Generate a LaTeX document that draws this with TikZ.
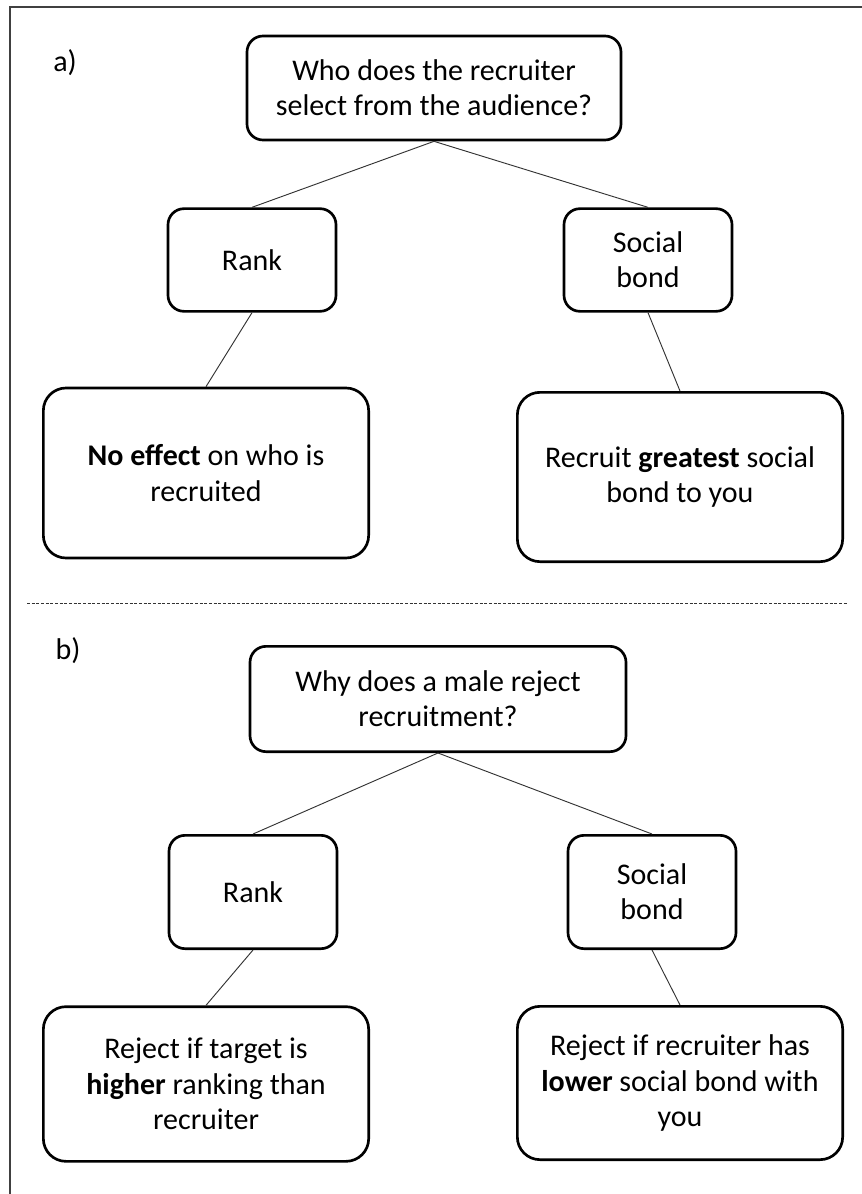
\documentclass[tikz,border=0pt]{standalone}
\usepackage{fontspec}
\setmainfont{Carlito}
\begin{document}
\begin{tikzpicture}[x=0.75pt,y=-0.75pt,
  box/.style={draw, line width=2pt, rounded corners=12pt, align=center,
    inner sep=0pt, font=\fontsize{22.5}{26.5}\selectfont},
  smallbox/.style={box, minimum width=126pt, minimum height=77pt},
  bigbox/.style={box, rounded corners=17pt, minimum width=244pt},
  link/.style={line width=0.7pt, black!80},
  tag/.style={font=\fontsize{22.5}{26.5}\selectfont}]

\useasboundingbox (0,0) rectangle (862,1194);

  %% frame
  \draw[line width=1.5pt, black!75] (10,1194) -- (10,7) -- (862,7);

  %% panel a
  \node[tag] (tagA) at (65,63) {a)};
  \node[box, minimum width=280.5pt, minimum height=78pt] (qA) at (434,88)
    {Who does the recruiter\\select from the audience?};
  \node[smallbox] (rankA) at (252,260) {Rank};
  \node[smallbox] (bondA) at (648,260) {Social\\bond};
  \node[bigbox, minimum height=127.5pt] (noeffect) at (206,473)
    {\textbf{No effect} on who is\\recruited};
  \node[bigbox, minimum height=127pt] (greatest) at (680,477)
    {Recruit \textbf{greatest} social\\bond to you};

  \draw[link] (qA.south) -- (rankA.north);
  \draw[link] (qA.south) -- (bondA.north);
  \draw[link] (rankA.south) -- (noeffect.north);
  \draw[link] (bondA.south) -- (greatest.north);

  %% separator
  \draw[line width=0.7pt, black!80, dash pattern=on 2.2pt off 1.3pt] (27,603) -- (847,603);

  %% panel b
  \node[tag] (tagB) at (68,651) {b)};
  \node[box, minimum width=282pt, minimum height=79pt] (qB) at (438,699)
    {Why does a male reject\\recruitment?};
  \node[smallbox, minimum height=85pt] (rankB) at (253,892) {Rank};
  \node[smallbox, minimum height=85pt] (bondB) at (652,892) {Social\\bond};
  \node[bigbox, minimum height=116pt] (higher) at (206,1084)
    {Reject if target is\\\textbf{higher} ranking than\\recruiter};
  \node[bigbox, minimum height=115pt] (lower) at (680,1083)
    {Reject if recruiter has\\\textbf{lower} social bond with\\you};

  \draw[link] (qB.south) -- (rankB.north);
  \draw[link] (qB.south) -- (bondB.north);
  \draw[link] (rankB.south) -- (higher.north);
  \draw[link] (bondB.south) -- (lower.north);

\end{tikzpicture}
\end{document}
